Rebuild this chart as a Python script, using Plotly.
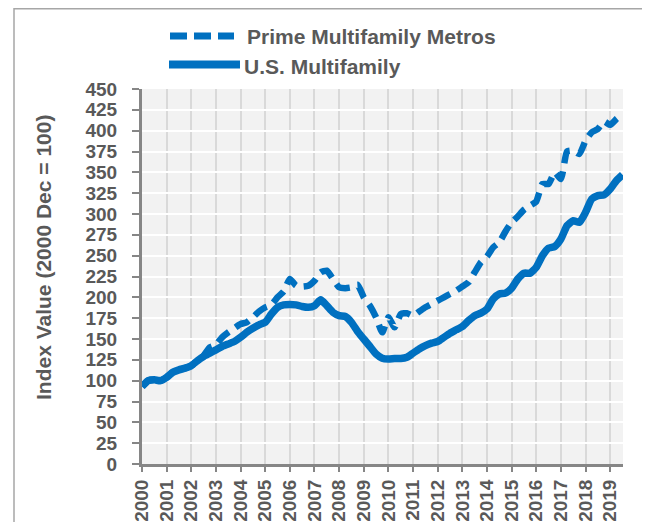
import plotly.graph_objects as go

# Quarterly index values, 2000 Q1 .. 2019 Q3
years = [2000 + q / 4 for q in range(79)]

us_multifamily = [
    93, 100, 101, 100, 104, 110, 113, 115,          # 2000-2001
    118, 124, 129, 133, 137, 141, 144, 147,         # 2002-2003
    152, 158, 163, 167, 170, 180, 188, 191,         # 2004-2005
    191.5, 191, 189, 188, 190, 197, 190, 182,       # 2006-2007
    178, 177, 170, 159, 150, 141, 132, 127,         # 2008-2009
    126, 126.5, 126.5, 128, 133, 138, 142, 145,     # 2010-2011
    147, 152, 157, 161, 165, 172, 178, 181,         # 2012-2013
    186, 198, 204, 205, 211, 222, 229, 229,         # 2014-2015
    236, 250, 259, 261, 270, 286, 292, 290,         # 2016-2017
    302, 318, 322, 323, 330, 340, 347,              # 2018-2019
]

prime_metros = [
    93, 100, 101, 100, 104, 110, 113, 115,
    118, 124, 130, 140, 143, 152, 158, 163,
    168, 170, 176, 183, 188, 191, 200, 207,
    222, 214, 213, 214, 220, 230, 232, 222,
    212, 211, 212, 215, 200, 190, 176, 158,
    176, 164, 180, 181, 178, 183, 188, 192,
    196, 200, 204, 208, 213, 218, 230, 242,
    249, 260, 266, 279, 290, 297, 305, 310,
    315, 336, 336, 350, 342, 375, 376, 372,
    388, 398, 402, 411, 407, 414, 420,
]

series_names = ["Prime Multifamily Metros", "U.S. Multifamily"]
y_title = "Index Value (2000 Dec = 100)"
year_ticks = list(range(2000, 2020))
y_ticks = list(range(0, 451, 25))

BLUE = "#0070C0"
GREY_TXT = "#595959"
AXIS = "#868686"
FONT = "Liberation Sans"

fig = go.Figure()
fig.add_trace(go.Scatter(
    x=years, y=prime_metros, name=series_names[0], mode="lines",
    line=dict(color=BLUE, width=6.5, dash="15px,8px", shape="spline", smoothing=0.5),
    showlegend=False,
))
fig.add_trace(go.Scatter(
    x=years, y=us_multifamily, name=series_names[1], mode="lines",
    line=dict(color=BLUE, width=7.5, shape="spline", smoothing=0.5),
    showlegend=False,
))

# page is offset by the 8px body margin; the plot area sits at page px 142..623 x 89..464
OFF = 8
PL, PR, PT, PB = 142, 623, 89, 464
W, H = 650 - OFF, 522 - OFF
pw = PR - PL
ph = PB - PT
L, T = PL - OFF, PT - OFF
R, B = W - L - pw, H - T - ph


def px_x(p):
    return (p - PL) / pw


def px_y(p):
    return (PB - p) / ph


shapes = [
    # outer frame
    dict(type="rect", xref="paper", yref="paper",
         x0=px_x(14), x1=px_x(647.5), y0=px_y(540), y1=px_y(8.8),
         line=dict(color="#A6A6A6", width=1.5), layer="below"),
    # legend samples
    dict(type="line", xref="paper", yref="paper",
         x0=px_x(170), x1=px_x(234), y0=px_y(36), y1=px_y(36),
         line=dict(color=BLUE, width=7, dash="17px,7px")),
    dict(type="line", xref="paper", yref="paper",
         x0=px_x(169), x1=px_x(240), y0=px_y(64.5), y1=px_y(64.5),
         line=dict(color=BLUE, width=8)),
]

annotations = [
    dict(text=series_names[0], xref="paper", yref="paper",
         x=px_x(245), y=px_y(37), xanchor="left", yanchor="middle", showarrow=False,
         font=dict(family=FONT, size=21, color=GREY_TXT, weight=700)),
    dict(text=series_names[1], xref="paper", yref="paper",
         x=px_x(242), y=px_y(66), xanchor="left", yanchor="middle", showarrow=False,
         font=dict(family=FONT, size=21, color=GREY_TXT, weight=700)),
    dict(text=y_title, xref="paper", yref="paper", textangle=-90,
         x=px_x(43), y=px_y(258), xanchor="center", yanchor="middle", showarrow=False,
         font=dict(family=FONT, size=21, color=GREY_TXT, weight=700)),
]

fig.update_layout(
    width=W, height=H,
    margin=dict(l=L, r=R, t=T, b=B, autoexpand=False),
    paper_bgcolor="white",
    plot_bgcolor="#F2F2F2",
    shapes=shapes,
    annotations=annotations,
    showlegend=False,
)

fig.update_xaxes(
    range=[2000, 2019.52],
    tickmode="array", tickvals=year_ticks, ticktext=[str(y) for y in year_ticks],
    tickangle=-90,
    tickfont=dict(family=FONT, size=19, color=GREY_TXT, weight=700),
    ticks="outside", ticklen=5, tickwidth=1.5, tickcolor=AXIS,
    showline=True, linecolor=AXIS, linewidth=3,
    showgrid=True, gridcolor="#D9D9D9", gridwidth=2,
    zeroline=False, automargin=False,
    ticklabelstandoff=0,
)
fig.update_yaxes(
    range=[0, 450],
    tickmode="array", tickvals=y_ticks,
    tickfont=dict(family=FONT, size=19, color=GREY_TXT, weight=700),
    ticks="outside", ticklen=7, tickwidth=1.5, tickcolor=AXIS,
    showline=True, linecolor=AXIS, linewidth=3,
    showgrid=True, gridcolor="white", gridwidth=2,
    zeroline=False, automargin=False,
    ticklabelstandoff=11,
)

fig.write_html("out.html")
